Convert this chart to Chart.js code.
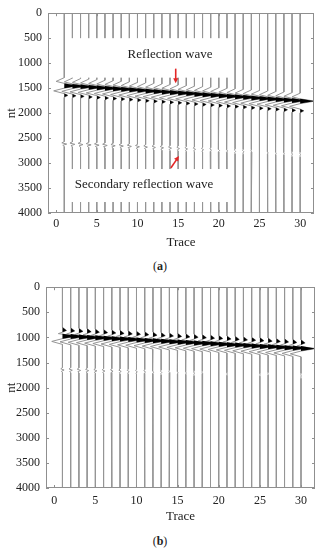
<!DOCTYPE html>
<html><head><meta charset="utf-8">
<script src="https://cdn.jsdelivr.net/npm/chart.js@4/dist/chart.umd.min.js"></script>
<style>
html,body{margin:0;padding:0;background:#fff;width:320px;height:550px;overflow:hidden}
.wrap{position:absolute;left:0;width:320px;height:250px}
.cap{position:absolute;left:0;width:320px;text-align:center;font:12px "Liberation Serif",serif;color:#222}
</style></head><body>
<div class="wrap" style="top:0"><canvas id="ca" width="320" height="250"></canvas></div>
<div class="cap" style="top:259px">(<b>a</b>)</div>
<div class="wrap" style="top:274px"><canvas id="cb" width="320" height="250"></canvas></div>
<div class="cap" style="top:534px">(<b>b</b>)</div>
<script>
// ---------- data ----------
const traces = [1,2,3,4,5,6,7,8,9,10,11,12,13,14,15,16,17,18,19,20,21,22,23,24,25,26,27,28,29,30];
const xTicks = [0,5,10,15,20,25,30];
const yTicks = [0,500,1000,1500,2000,2500,3000,3500,4000];

// panel (a): arrival time (nt) of the main reflection on each trace
const reflectionA = [1450,1460,1470,1481,1491,1502,1512,1523,1534,1545,1556,1566,1577,1588,1599,1610,1621,1631,1642,1653,1664,1674,1685,1696,1706,1717,1728,1738,1749,1760];
// panel (a): secondary reflection time and its amplitude (trace units)
const secondaryA = [2620,2625,2630,2636,2642,2648,2654,2660,2667,2674,2681,2688,2695,2702,2710,2718,2726,2734,2742,2750,2758,2766,2774,2782,2790,2798,2806,2814,2822,2830];
const secondaryAmpA = [0.3,0.3,0.3,0.3,0.28,0.28,0.26,0.26,0.25,0.24,0.22,0.2,0.2,0.18,0.16,0.15,0.14,0.12,0.1,0.1,0.08,0.08,0.07,0.06,0.06,0.05,0.05,0.05,0.04,0.04];
// panel (b)
const reflectionB = [975,983,992,1000,1009,1017,1026,1034,1043,1051,1060,1068,1077,1085,1094,1102,1111,1119,1128,1136,1145,1153,1162,1170,1179,1187,1196,1204,1213,1222];
const secondaryB = [1650,1654,1658,1662,1666,1670,1674,1678,1682,1686,1690,1694,1698,1702,1706,1710,1714,1718,1722,1726,1730,1734,1738,1742,1746,1750,1754,1758,1762,1766];
const secondaryAmpB = [0.2,0.2,0.2,0.18,0.18,0.16,0.15,0.14,0.12,0.1,0.1,0.08,0.07,0.06,0.05,0.05,0.04,0.04,0.03,0.03,0.03,0.02,0.02,0.02,0.02,0.02,0.02,0.02,0.02,0.02];

// wavelet shapes: time offsets (nt) and deflections (trace units)
const waveletOffsetA = [-160,-85,-45,0,50,105,160,195,235];
const waveletAmpA    = [0,-1.0,0,1.8,0,-1.3,0,0.45,0];
const waveletOffsetB = [-175,-112,-78,-50,0,50,105,165];
const waveletAmpB    = [0,0.5,0,-0.5,1.8,0,-1.3,0];
const rippleOffset = [-50,-25,0,25,50];
const rippleShape  = [0,-1,1,-0.6,0];

// ---------- helpers ----------
const FONT = '"Liberation Serif","Times New Roman",serif';
Chart.defaults.font.family = FONT;
Chart.defaults.color = '#222';

function tracePoints(x0, t0, wOff, wAmp, t1, a1) {
  const pts = [{x:x0, y:0}];
  wOff.forEach((d,k)=>pts.push({x:x0 + wAmp[k], y:t0 + d}));
  rippleOffset.forEach((d,k)=>pts.push({x:x0 + a1*rippleShape[k], y:t1 + d}));
  pts.push({x:x0, y:4000});
  return pts;
}
function fillPoints(x0, t0, wOff, wAmp) {
  const pts = [{x:x0, y:0}];
  wOff.forEach((d,k)=>pts.push({x:x0 + Math.max(0, wAmp[k]), y:t0 + d}));
  pts.push({x:x0, y:4000});
  return pts;
}
function buildDatasets(refl, wOff, wAmp, sec, secAmp) {
  const lines = [], fills = [];
  traces.forEach((tr, i) => {
    lines.push({data: tracePoints(tr, refl[i], wOff, wAmp, sec[i], secAmp[i]),
      borderColor:'#959595', borderWidth:1, pointRadius:0, fill:false, tension:0});
    fills.push({data: fillPoints(tr, refl[i], wOff, wAmp),
      borderColor:'rgba(0,0,0,0)', borderWidth:0, pointRadius:0, backgroundColor:'#000',
      fill:{value: tr}, tension:0});
  });
  return fills.concat(lines);
}

const framePlugin = {
  id:'frame',
  afterDraw(chart) {
    const {ctx, chartArea:a, scales:{x, y}} = chart;
    ctx.save();
    ctx.strokeStyle = '#8f8f8f'; ctx.lineWidth = 1;
    ctx.strokeRect(Math.round(a.left)+0.5, Math.round(a.top)+0.5, Math.round(a.right-a.left)-1, Math.round(a.bottom-a.top)-1);
    ctx.beginPath();
    xTicks.forEach(v => { const px = Math.round(x.getPixelForValue(v))+0.5;
      ctx.moveTo(px, a.bottom); ctx.lineTo(px, a.bottom-3);
      ctx.moveTo(px, a.top); ctx.lineTo(px, a.top+3); });
    yTicks.forEach(v => { const py = Math.round(y.getPixelForValue(v))+0.5;
      ctx.moveTo(a.left, py); ctx.lineTo(a.left+3, py);
      ctx.moveTo(a.right, py); ctx.lineTo(a.right-3, py); });
    ctx.stroke();
    ctx.restore();
  }
};

function notesPlugin(notes) {
  return {
    id:'notes',
    afterDatasetsDraw(chart) {
      const {ctx, scales:{x, y}} = chart;
      ctx.save();
      ctx.fillStyle = '#fff';
      notes.boxes.forEach(b => {
        const l = x.getPixelForValue(b.x0), r = x.getPixelForValue(b.x1);
        const t = y.getPixelForValue(b.y0), btm = y.getPixelForValue(b.y1);
        ctx.fillRect(l, t, r-l, btm-t);
      });
      ctx.fillStyle = '#222'; ctx.font = '13px ' + FONT;
      ctx.textAlign = 'center'; ctx.textBaseline = 'middle';
      notes.labels.forEach(lb => ctx.fillText(lb.text, x.getPixelForValue(lb.x), y.getPixelForValue(lb.y)));
      ctx.strokeStyle = '#e32626'; ctx.fillStyle = '#e32626'; ctx.lineWidth = 1.6;
      notes.arrows.forEach(ar => {
        const x1 = x.getPixelForValue(ar.from[0]), y1 = y.getPixelForValue(ar.from[1]);
        const x2 = x.getPixelForValue(ar.to[0]), y2 = y.getPixelForValue(ar.to[1]);
        const ang = Math.atan2(y2-y1, x2-x1), h = 5;
        ctx.beginPath(); ctx.moveTo(x1, y1);
        ctx.lineTo(x2 - Math.cos(ang)*h*0.8, y2 - Math.sin(ang)*h*0.8); ctx.stroke();
        ctx.beginPath(); ctx.moveTo(x2, y2);
        ctx.lineTo(x2 - h*Math.cos(ang) + 2.5*Math.sin(ang), y2 - h*Math.sin(ang) - 2.5*Math.cos(ang));
        ctx.lineTo(x2 - h*Math.cos(ang) - 2.5*Math.sin(ang), y2 - h*Math.sin(ang) + 2.5*Math.cos(ang));
        ctx.closePath(); ctx.fill();
      });
      ctx.restore();
    }
  };
}

function makeChart(id, datasets, cfg, extraPlugins) {
  return new Chart(document.getElementById(id), {
    type:'line',
    data:{datasets},
    options:{
      indexAxis:'y', responsive:false, animation:false, devicePixelRatio:1,
      layout:{padding:{top:8, right:cfg.padRight, bottom:0, left:0}},
      plugins:{legend:{display:false}, tooltip:{enabled:false}},
      elements:{line:{borderCapStyle:'butt'}},
      scales:{
        x:{type:'linear', min:-1, max:31.7, position:'bottom',
          grid:{display:false, drawTicks:false}, border:{display:false},
          afterBuildTicks: s => { s.ticks = xTicks.map(v=>({value:v})); },
          afterFit: s => { s.height = cfg.xHeight; },
          ticks:{padding:cfg.xPad, font:{family:FONT, size:12}, color:'#222', callback: v => String(v)},
          title:{display:true, text:'Trace', font:{family:FONT, size:13}, color:'#222', padding:{top:cfg.titlePad, bottom:0}}},
        y:{type:'linear', min:0, max:4000, reverse:true,
          grid:{display:false, drawTicks:false}, border:{display:false},
          afterBuildTicks: s => { s.ticks = yTicks.map(v=>({value:v})); },
          afterFit: s => { s.width = cfg.yWidth; },
          ticks:{padding:6, font:{family:FONT, size:12}, color:'#222', callback: v => String(v)},
          title:{display:true, text:'nt', font:{family:FONT, size:13}, color:'#222', padding:{top:4, bottom:0}}}
      }
    },
    plugins:[framePlugin].concat(extraPlugins)
  });
}

const notesA = {
  boxes:[{x0:1.5, x1:21.4, y0:500, y1:1290}, {x0:1.5, x1:21.4, y0:3120, y1:3780}],
  labels:[{text:'Reflection wave', x:14, y:830}, {text:'Secondary reflection wave', x:10.8, y:3430}],
  arrows:[{from:[14.7,1110], to:[14.7,1400]}, {from:[14.1,3100], to:[15.1,2860]}]
};

makeChart('ca', buildDatasets(reflectionA, waveletOffsetA, waveletAmpA, secondaryA, secondaryAmpA),
  {padRight:6, xHeight:37, xPad:4, titlePad:1, yWidth:48}, [notesPlugin(notesA)]);
makeChart('cb', buildDatasets(reflectionB, waveletOffsetB, waveletAmpB, secondaryB, secondaryAmpB),
  {padRight:5, xHeight:36, xPad:6, titlePad:0, yWidth:46}, []);
</script>
</body></html>
